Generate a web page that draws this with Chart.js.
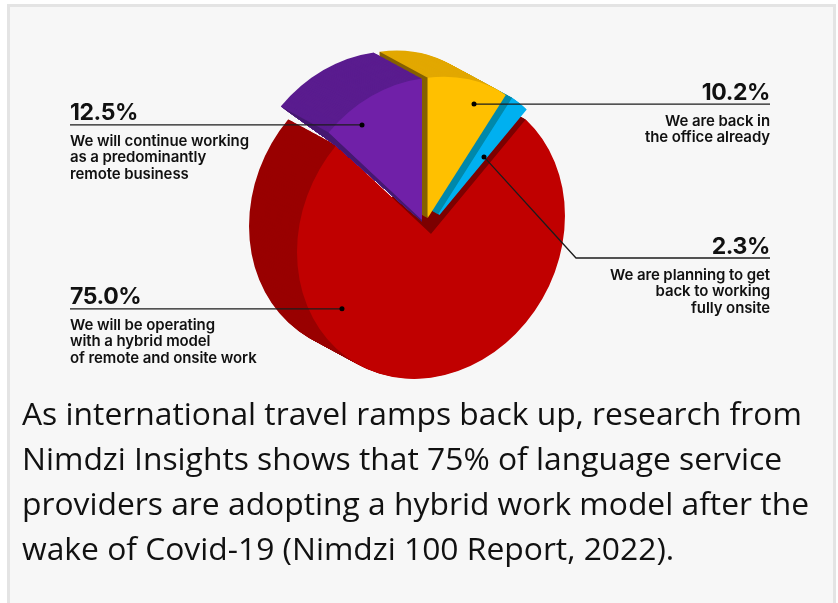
<!DOCTYPE html>
<html>
<head>
<meta charset="utf-8">
<script src="https://cdn.jsdelivr.net/npm/chart.js@4"></script>
<style>
  html, body { margin: 0; padding: 0; background: #fff; }
  #page { position: relative; width: 838px; height: 603px; overflow: hidden; }
  #panel { position: absolute; left: 7px; top: 4px; width: 823px; height: 620px; background: #f7f7f7; border: 3px solid #e4e4e4; }
  canvas { position: absolute; left: 0; top: 0; }
  .label { position: absolute; font-family: Inter, sans-serif; color: #111; font-weight: 600; font-size: 15px; line-height: 16.7px; letter-spacing: -0.1px; }
  .label b { display: block; font-size: 23px; line-height: 24px; font-weight: 700; letter-spacing: -0.4px; margin-bottom: 8.5px; }
  .right { text-align: right; }
  #caption { position: absolute; left: 22px; top: 390px; font-family: "Open Sans", sans-serif; font-size: 31.8px; line-height: 45px; color: #111; white-space: nowrap; }
</style>
</head>
<body>
<div id="page">
  <div id="panel"></div>
  <canvas id="pie" width="838" height="603"></canvas>
  <div class="label" style="left:70px;top:100px"><b>12.5%</b>We will continue working<br>as a predominantly<br>remote business</div>
  <div class="label" style="left:70px;top:284px"><b>75.0%</b>We will be operating<br>with a hybrid model<br>of remote and onsite work</div>
  <div class="label right" style="right:68px;top:80px"><b>10.2%</b>We are back in<br>the office already</div>
  <div class="label right" style="right:68px;top:234px"><b>2.3%</b>We are planning to get<br>back to working<br>fully onsite</div>
  <div id="caption">As international travel ramps back up, research from<br>Nimdzi Insights shows that 75% of language service<br>providers are adopting a hybrid work model after the<br>wake of Covid-19 (Nimdzi 100 Report, 2022).</div>
</div>
<script>
const categories = ["We are back in the office already", "We are planning to get back to working fully onsite", "We will be operating with a hybrid model of remote and onsite work", "We will continue working as a predominantly remote business"];
const shares = [10.2, 2.3, 75.0, 12.5];
const faceColors = ["#ffc000", "#00b0f0", "#c00000", "#7020a8"];
const wallColors = ["#e2a800", "#0088aa", "#990000", "#5a1c8f"];
const sideColors = ["#856000", "#0088aa", "#7c0000", "#451870"];

// squashed look of the pie, and how far each slice is pulled out of it
const tilt = [0.957, -0.13, 0, 1.027];
const depth = { x: -48, y: -26 };
const sliceShift = [{ x: -3.3, y: -16 }, { x: 1, y: -10 }, { x: 0, y: 0 }, { x: -9, y: -14 }];
const sliceScale = [0.975, 1, 1, 0.985];
const sliceHole = [0, 11, 0, 0];
const drawOrder = [2, 1, 0, 3];
const PURPLE = 3;

// where the leader dot sits inside a slice: along the sweep and along the radius
const dotAngle = [0.675, 0.75, 0.71, 0.29];
const dotRadius = [0.846, 0.57, 0.795, 0.859];

const project = (arc, i, angle, radius) => {
  const px = Math.cos(angle) * radius;
  const py = Math.sin(angle) * radius;
  return {
    x: arc.x + sliceShift[i].x + tilt[0] * px + tilt[2] * py,
    y: arc.y + sliceShift[i].y + tilt[1] * px + tilt[3] * py,
  };
};

const tracePoints = (ctx, points) => {
  ctx.beginPath();
  points.forEach((p, n) => (n ? ctx.lineTo(p.x, p.y) : ctx.moveTo(p.x, p.y)));
  ctx.closePath();
};

const polygon = (ctx, points, color) => {
  ctx.fillStyle = color;
  tracePoints(ctx, points);
  ctx.fill();
};

const moved = (p) => ({ x: p.x + depth.x, y: p.y + depth.y });

const drawWall = (ctx, arc, i) => {
  // sweep the slice outline backwards to get the curved outer surface
  for (let step = 48; step > 0; step--) {
    const k = step / 48;
    ctx.save();
    ctx.translate(arc.x + sliceShift[i].x + depth.x * k, arc.y + sliceShift[i].y + depth.y * k);
    ctx.transform(tilt[0], tilt[1], tilt[2], tilt[3], 0, 0);
    ctx.fillStyle = wallColors[i];
    ctx.beginPath();
    ctx.arc(0, 0, arc.outerRadius, arc.startAngle, arc.endAngle);
    ctx.arc(0, 0, arc.innerRadius, arc.endAngle, arc.startAngle, true);
    ctx.closePath();
    ctx.fill();
    ctx.restore();
  }
};

const drawSide = (ctx, arc, i, angle) => {
  const apex = project(arc, i, angle, arc.innerRadius);
  const rim = project(arc, i, angle, arc.outerRadius);
  polygon(ctx, [apex, rim, moved(rim), moved(apex)], sideColors[i]);
};

// the thin dark lip under the purple slice; back faces must not spill below it
const purpleLip = (arc) => {
  const apex = project(arc, PURPLE, arc.startAngle, 0);
  const rim = project(arc, PURPLE, arc.startAngle, arc.outerRadius);
  return {
    apex,
    rim,
    back: moved(rim),
    lipRim: { x: rim.x + 7, y: rim.y + 13 },
    lipApex: { x: apex.x, y: apex.y + 2 },
  };
};

const drawBack = (chart, arc, i) => {
  const ctx = chart.ctx;
  const lip = purpleLip(chart.getDatasetMeta(0).data[PURPLE]);
  if (i === 2) {
    drawWall(ctx, arc, i);
    drawSide(ctx, arc, i, arc.startAngle);
    return;
  }
  ctx.save();
  tracePoints(ctx, [
    lip.back,
    lip.lipRim,
    lip.lipApex,
    { x: chart.width, y: lip.lipApex.y },
    { x: chart.width, y: 0 },
    { x: lip.back.x, y: 0 },
  ]);
  ctx.clip();
  drawWall(ctx, arc, i);
  if (i !== PURPLE) {
    drawSide(ctx, arc, i, arc.startAngle);
  }
  ctx.restore();
  if (i === PURPLE) {
    polygon(ctx, [lip.back, lip.lipRim, lip.lipApex, lip.apex, lip.rim], sideColors[i]);
  }
};

const pie3d = {
  id: "pie3d",
  afterDatasetsUpdate(chart) {
    chart.getDatasetMeta(0).data.forEach((arc, i) => {
      arc.outerRadius *= sliceScale[i];
      arc.innerRadius = sliceHole[i];
    });
  },
  beforeDatasetsDraw(chart) {
    const ctx = chart.ctx;
    const arcs = chart.getDatasetMeta(0).data;
    drawOrder.forEach((i) => {
      const arc = arcs[i];
      drawBack(chart, arc, i);
      ctx.save();
      ctx.translate(arc.x + sliceShift[i].x, arc.y + sliceShift[i].y);
      ctx.transform(tilt[0], tilt[1], tilt[2], tilt[3], 0, 0);
      ctx.translate(-arc.x, -arc.y);
      arc.draw(ctx);
      ctx.restore();
    });
    return false;
  },
  afterDraw(chart) {
    const ctx = chart.ctx;
    const arcs = chart.getDatasetMeta(0).data;
    const dots = arcs.map((arc, i) =>
      project(arc, i, arc.startAngle + (arc.endAngle - arc.startAngle) * dotAngle[i], arc.outerRadius * dotRadius[i])
    );
    ctx.strokeStyle = "#1c1c1c";
    ctx.lineWidth = 1.3;
    const leaders = [
      [dots[0], { x: 770, y: dots[0].y }],
      [dots[1], { x: 576, y: 258 }, { x: 770, y: 258 }],
      [dots[2], { x: 70, y: dots[2].y }],
      [dots[3], { x: 70, y: dots[3].y }],
    ];
    leaders.forEach((line) => {
      ctx.beginPath();
      line.forEach((p, n) => (n ? ctx.lineTo(p.x, p.y) : ctx.moveTo(p.x, p.y)));
      ctx.stroke();
    });
    ctx.fillStyle = "#000";
    dots.forEach((p) => {
      ctx.beginPath();
      ctx.arc(p.x, p.y, 2.5, 0, Math.PI * 2);
      ctx.fill();
    });
  },
};

new Chart(document.getElementById("pie"), {
  type: "pie",
  data: {
    labels: categories,
    datasets: [{ data: shares, backgroundColor: faceColors, borderWidth: 0 }],
  },
  options: {
    responsive: false,
    animation: false,
    layout: { padding: { left: 291, right: 267, top: 94, bottom: 229 } },
    plugins: { legend: { display: false }, tooltip: { enabled: false } },
  },
  plugins: [pie3d],
});
</script>
</body>
</html>
